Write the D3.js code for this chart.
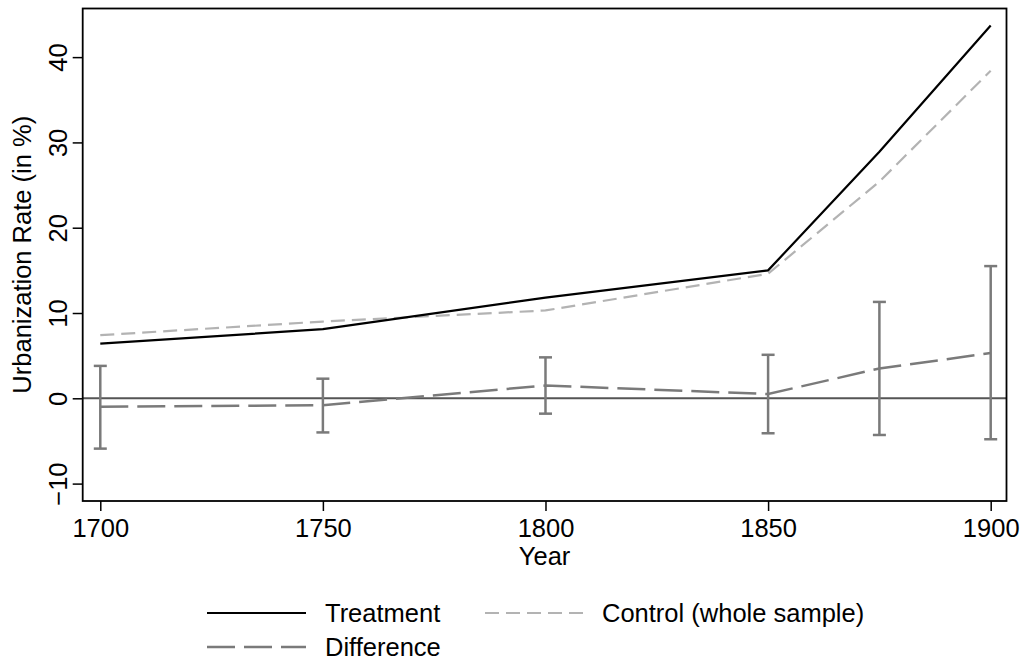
<!DOCTYPE html>
<html>
<head>
<meta charset="utf-8">
<script src="https://cdn.jsdelivr.net/npm/d3@7"></script>
<style>
  html, body { margin: 0; padding: 0; background: #fff; }
  svg { display: block; }
  text { font-family: "Liberation Sans", Arial, Helvetica, sans-serif; fill: #000; }
</style>
</head>
<body>
<svg id="chart" width="1023" height="660"></svg>
<script>
// ---- data ----
const years = [1700, 1750, 1800, 1850, 1875, 1900];
const treatment = [6.4, 8.1, 11.8, 15.0, 28.9, 43.7];
const control = [7.4, 9.0, 10.3, 14.6, 25.4, 38.4];
const difference = [-1.0, -0.8, 1.5, 0.5, 3.5, 5.3];
const ciLow = [-5.9, -4.0, -1.8, -4.1, -4.3, -4.8];
const ciHigh = [3.8, 2.3, 4.8, 5.1, 11.3, 15.5];
const xTicks = [1700, 1750, 1800, 1850, 1900];
const yTicks = [-10, 0, 10, 20, 30, 40];
const legendLabels = ["Treatment", "Control (whole sample)", "Difference"];

// ---- layout ----
const svg = d3.select("#chart");
const L = 82.7, R = 1006.5, T = 8.5, B = 501;
const FS = 25.5;

const x = d3.scaleLinear().domain([1696.05, 1903.55]).range([L, R]);
const y = d3.scaleLinear().domain([-12.04, 45.7]).range([B, T]);

const cTreat = "#000000", cCtrl = "#b3b3b3", cDiff = "#7a7a7a", cZero = "#555555";

// zero line
svg.append("line")
  .attr("x1", L).attr("x2", R)
  .attr("y1", y(0)).attr("y2", y(0))
  .attr("stroke", cZero).attr("stroke-width", 2);

// error bars
const eb = svg.append("g").attr("stroke", cDiff).attr("stroke-width", 2.5).attr("fill", "none");
years.forEach((yr, i) => {
  const cx = x(yr);
  eb.append("line").attr("x1", cx).attr("x2", cx).attr("y1", y(ciLow[i])).attr("y2", y(ciHigh[i]));
  eb.append("line").attr("x1", cx - 6.5).attr("x2", cx + 6.5).attr("y1", y(ciLow[i])).attr("y2", y(ciLow[i]));
  eb.append("line").attr("x1", cx - 6.5).attr("x2", cx + 6.5).attr("y1", y(ciHigh[i])).attr("y2", y(ciHigh[i]));
});

const line = d3.line().x(d => x(d[0])).y(d => y(d[1]));

svg.append("path")
  .datum(years.map((yr, i) => [yr, difference[i]]))
  .attr("d", line).attr("fill", "none")
  .attr("stroke", cDiff).attr("stroke-width", 2.5)
  .attr("stroke-dasharray", "28,9");

svg.append("path")
  .datum(years.map((yr, i) => [yr, control[i]]))
  .attr("d", line).attr("fill", "none")
  .attr("stroke", cCtrl).attr("stroke-width", 2.2)
  .attr("stroke-dasharray", "14,7");

svg.append("path")
  .datum(years.map((yr, i) => [yr, treatment[i]]))
  .attr("d", line).attr("fill", "none")
  .attr("stroke", cTreat).attr("stroke-width", 2.2);

// frame
svg.append("rect")
  .attr("x", L).attr("y", T).attr("width", R - L).attr("height", B - T)
  .attr("fill", "none").attr("stroke", "#000").attr("stroke-width", 1.8);

// x axis
const gx = svg.append("g").attr("transform", `translate(0,${B})`)
  .call(d3.axisBottom(x).tickValues(xTicks).tickSize(10).tickSizeOuter(0).tickFormat(d3.format("d")));
gx.select(".domain").remove();
gx.selectAll(".tick line").attr("stroke", "#000").attr("stroke-width", 1.5);
gx.selectAll(".tick text").attr("font-size", FS).attr("y", 36).attr("dy", 0)
  .style("font-family", '"Liberation Sans", Arial, Helvetica, sans-serif').attr("fill", "#000");

// y axis
const gy = svg.append("g").attr("transform", `translate(${L},0)`)
  .call(d3.axisLeft(y).tickValues(yTicks).tickSize(10).tickSizeOuter(0));
gy.select(".domain").remove();
gy.selectAll(".tick line").attr("stroke", "#000").attr("stroke-width", 1.5);
gy.selectAll(".tick text")
  .attr("font-size", FS)
  .attr("transform", "rotate(-90)")
  .attr("x", 0).attr("y", -16.2).attr("dy", 0)
  .attr("text-anchor", "middle")
  .style("font-family", '"Liberation Sans", Arial, Helvetica, sans-serif').attr("fill", "#000");

// axis titles
svg.append("text")
  .attr("x", (L + R) / 2).attr("y", 565)
  .attr("text-anchor", "middle").attr("font-size", FS)
  .text("Year");

svg.append("text")
  .attr("transform", `translate(31,${(T + B) / 2}) rotate(-90)`)
  .attr("text-anchor", "middle").attr("font-size", FS)
  .text("Urbanization Rate (in %)");

// legend
const leg = svg.append("g");
const legItems = [
  { x1: 207, x2: 306, ly: 613, tx: 325, ty: 622, c: cTreat, dash: null, w: 2.2 },
  { x1: 485, x2: 585, ly: 613, tx: 602, ty: 622, c: cCtrl, dash: "14,7", w: 2.2 },
  { x1: 207, x2: 306, ly: 647, tx: 325, ty: 656, c: cDiff, dash: "28,9", w: 2.5 }
];
legItems.forEach((it, i) => {
  leg.append("line")
    .attr("x1", it.x1).attr("x2", it.x2).attr("y1", it.ly).attr("y2", it.ly)
    .attr("stroke", it.c).attr("stroke-width", it.w)
    .attr("stroke-dasharray", it.dash);
  leg.append("text")
    .attr("x", it.tx).attr("y", it.ty).attr("font-size", FS)
    .text(legendLabels[i]);
});
</script>
</body>
</html>
